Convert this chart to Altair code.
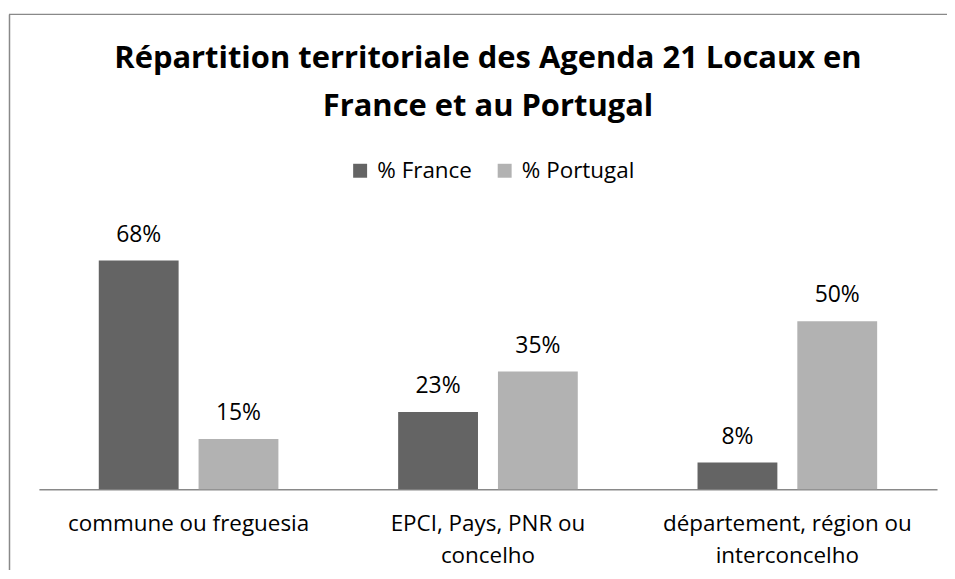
import altair as alt
import pandas as pd

categories = ["commune ou freguesia", "EPCI, Pays, PNR ou concelho", "département, région ou interconcelho"]
category_lines = [["commune ou freguesia"], ["EPCI, Pays, PNR ou", "concelho"], ["département, région ou", "interconcelho"]]
series = ["% France", "% Portugal"]
france = [0.68, 0.23, 0.08]
portugal = [0.15, 0.35, 0.50]
colors = ["#646464", "#b2b2b2"]
title_lines = ["Répartition territoriale des Agenda 21 Locaux en", "France et au Portugal"]

rows = []
for c, f, p in zip(categories, france, portugal):
    rows.append({"cat": c, "serie": series[0], "val": f})
    rows.append({"cat": c, "serie": series[1], "val": p})
df = pd.DataFrame(rows)

expr = ""
for c, lines in zip(categories, category_lines):
    arr = "[" + ",".join("'" + l + "'" for l in lines) + "]"
    expr += f"datum.value == '{c}' ? {arr} : "
expr += "datum.value"

FONT = "Open Sans"
FRAME = "#898989"

x = alt.X("cat:N", sort=categories, title=None,
          scale=alt.Scale(paddingInner=0, paddingOuter=0),
          axis=alt.Axis(labelExpr=expr, labelAngle=0, ticks=False, domainColor=FRAME,
                        domainWidth=1.5, labelFont=FONT, labelFontSize=22.5, labelColor="#000000",
                        labelBaseline="top", labelPadding=23, labelLineHeight=32, labelLimit=400))
xo = alt.XOffset("serie:N", sort=series, scale=alt.Scale(paddingInner=0.2, paddingOuter=0.6))
y = alt.Y("val:Q", axis=None, scale=alt.Scale(domain=[0, 0.8]))

bars = alt.Chart(df).mark_bar().encode(
    x=x, xOffset=xo, y=y,
    color=alt.Color("serie:N", sort=series, scale=alt.Scale(domain=series, range=colors),
                    legend=alt.Legend(title=None, orient="none", legendX=311, legendY=-61,
                                      direction="horizontal", symbolType="square", symbolSize=196,
                                      symbolStrokeWidth=0, labelFont=FONT, labelFontSize=22.5,
                                      labelColor="#000000", labelOffset=6, columnPadding=21)),
)

labels = alt.Chart(df).mark_text(font=FONT, fontSize=23, color="#000000", baseline="alphabetic", dy=-19).encode(
    x=x, xOffset=xo, y=y, text=alt.Text("val:Q", format=".0%"),
)

title = alt.Chart(pd.DataFrame({"a": [0]})).mark_text(
    text=title_lines, font=FONT, fontSize=31, fontWeight="bold", color="#000000",
    align="center", baseline="alphabetic", lineHeight=48,
).encode(x=alt.value(450.5), y=alt.value(-153))

frame_left = alt.Chart(pd.DataFrame({"a": [0]})).mark_rule(stroke=FRAME, strokeWidth=1.5).encode(
    x=alt.value(-29.5), x2=alt.value(-29.5), y=alt.value(-206.5), y2=alt.value(420),
)
frame_top = alt.Chart(pd.DataFrame({"a": [0]})).mark_rule(stroke=FRAME, strokeWidth=1.5).encode(
    x=alt.value(-30), x2=alt.value(911), y=alt.value(-206.5), y2=alt.value(-206.5),
)

chart = alt.layer(frame_left, frame_top, title, bars, labels).properties(
    width=901, height=270,
    autosize=alt.AutoSizeParams(type="none"),
    padding={"left": 31, "top": 212, "right": 10, "bottom": 80},
).configure_view(stroke=None)

chart.save("out.html", embed_options={"renderer": "svg", "actions": False})
